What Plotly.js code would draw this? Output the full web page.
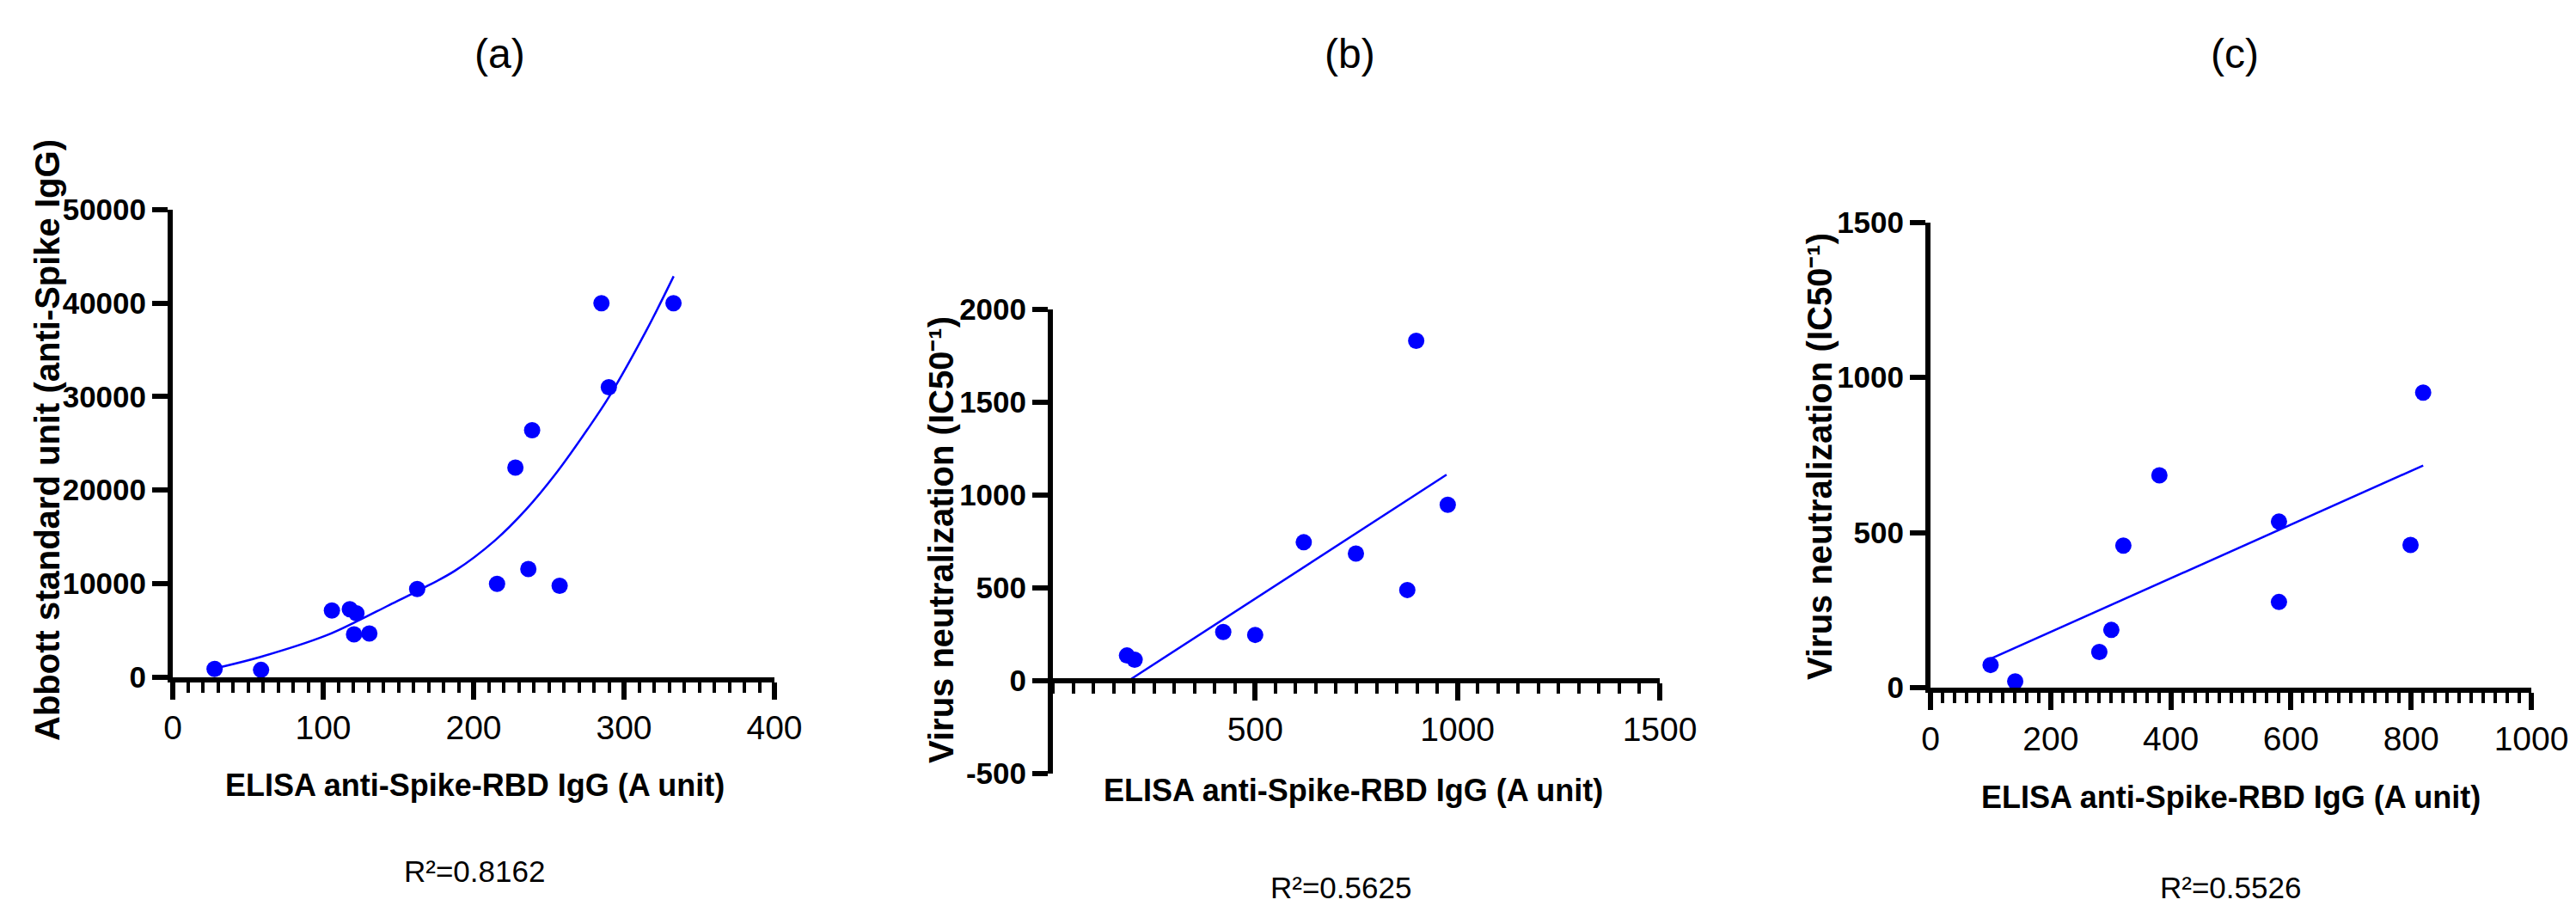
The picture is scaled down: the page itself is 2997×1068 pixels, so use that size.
<!DOCTYPE html>
<html>
<head>
<meta charset="utf-8">
<script src="https://cdn.plot.ly/plotly-3.0.1.min.js"></script>
<style>html,body{margin:0;padding:0;background:#fff;}#chart{width:2997px;height:1068px;}</style>
</head>
<body>
<div id="chart"></div>
<script>
// ---------- data ----------
const panelTitles = ['(a)', '(b)', '(c)'];
const xAxisTitle = 'ELISA anti-Spike-RBD IgG (A unit)';
const yTitleA = 'Abbott standard unit (anti-Spike IgG)';
const yTitleBC = 'Virus neutralization (IC50\u207B\u00B9)';
const r2Labels = ['R\u00B2=0.8162', 'R\u00B2=0.5625', 'R\u00B2=0.5526'];

// Panel (a)
const aX = [27.8, 58.7, 105.8, 117.7, 122.1, 120.5, 130.7, 162.5, 215.6, 236.4, 257.2, 227.8, 238.9, 285.0, 289.9, 332.9];
const aY = [850, 750, 7100, 7250, 6800, 4550, 4650, 9400, 9950, 11550, 9750, 22400, 26400, 40000, 31000, 40000];
const aFitX = [32.1, 58.9, 101.8, 122.3, 142.7, 163.2, 187.7, 214.3, 234.8, 254.2, 275.7, 290.4, 314.5, 333.0];
const aFitY = [1060, 2160, 4420, 5940, 7590, 9240, 11370, 14620, 17900, 21660, 26490, 30070, 36970, 42880];
const aXTicks = [0, 100, 200, 300, 400];
const aXTickText = ['0', '100', '200', '300', '400'];
const aYTicks = [0, 10000, 20000, 30000, 40000, 50000];
const aYTickText = ['0', '10000', '20000', '30000', '40000', '50000'];

// Panel (b)
const bX = [183, 202, 421, 500, 620, 749, 876, 898, 976];
const bY = [136, 113, 263, 247, 746, 685, 489, 1831, 948];
const bFitX = [186.6, 973];
const bFitY = [0, 1110];
const bXTicks = [500, 1000, 1500];
const bXTickText = ['500', '1000', '1500'];
const bYTicks = [-500, 0, 500, 1000, 1500, 2000];
const bYTickText = ['-500', '0', '500', '1000', '1500', '2000'];

// Panel (c)
const cX = [100, 141, 281, 301, 321, 381, 580, 580, 799, 820];
const cY = [73, 20, 115, 186, 458, 684, 535, 276, 460, 951];
const cFitX = [100, 820];
const cFitY = [93, 716];
const cXTicks = [0, 200, 400, 600, 800, 1000];
const cXTickText = ['0', '200', '400', '600', '800', '1000'];
const cYTicks = [0, 500, 1000, 1500];
const cYTickText = ['0', '500', '1000', '1500'];

// ---------- geometry / style ----------
const W = 2997, H = 1068;
const fx = p => p / W;
const fy = p => 1 - p / H;
const SANS = 'Liberation Sans, Arial, Helvetica, sans-serif';
const BLUE = '#0000ff';

const markerStyle = {color: BLUE, size: 19};
const lineStyle = {color: BLUE, width: 2.5};

function xAxis(domain, range, tickvals, ticktext, minorDtick, extra) {
  return Object.assign({
    domain: domain, range: range, showgrid: false, zeroline: false,
    showline: true, linecolor: '#000', linewidth: 6,
    ticks: 'outside', ticklen: 20, tickwidth: 6, tickcolor: '#000',
    tickmode: 'array', tickvals: tickvals, ticktext: ticktext,
    tickfont: {family: SANS, size: 39, color: '#000'},
    minor: {ticks: 'outside', ticklen: 12, tickwidth: 4, tickcolor: '#000',
            tickmode: 'linear', tick0: 0, dtick: minorDtick, showgrid: false},
    fixedrange: true
  }, extra || {});
}
function yAxis(domain, range, tickvals, ticktext, extra) {
  return Object.assign({
    domain: domain, range: range, showgrid: false, zeroline: false,
    showline: true, linecolor: '#000', linewidth: 6,
    ticks: 'outside', ticklen: 18, tickwidth: 6, tickcolor: '#000',
    tickmode: 'array', tickvals: tickvals, ticktext: ticktext,
    tickfont: {family: SANS, size: 35, color: '#000', weight: 'bold'},
    fixedrange: true
  }, extra || {});
}

const traces = [
  {x: aX, y: aY, xaxis: 'x', yaxis: 'y', mode: 'markers', type: 'scatter', marker: markerStyle, cliponaxis: false},
  {x: aFitX, y: aFitY, xaxis: 'x', yaxis: 'y', mode: 'lines', type: 'scatter', line: Object.assign({shape: 'spline', smoothing: 1}, lineStyle)},
  {x: bX, y: bY, xaxis: 'x2', yaxis: 'y2', mode: 'markers', type: 'scatter', marker: markerStyle, cliponaxis: false},
  {x: bFitX, y: bFitY, xaxis: 'x2', yaxis: 'y2', mode: 'lines', type: 'scatter', line: lineStyle},
  {x: cX, y: cY, xaxis: 'x3', yaxis: 'y3', mode: 'markers', type: 'scatter', marker: markerStyle, cliponaxis: false},
  {x: cFitX, y: cFitY, xaxis: 'x3', yaxis: 'y3', mode: 'lines', type: 'scatter', line: lineStyle}
];

const ann = [];
function addText(text, px, py, font, extra) {
  ann.push(Object.assign({text: text, xref: 'paper', yref: 'paper', x: fx(px), y: fy(py),
    xanchor: 'center', yanchor: 'middle', showarrow: false, font: font}, extra || {}));
}
const titleFont = {family: SANS, size: 48, color: '#000'};
const r2Font = {family: SANS, size: 35, color: '#000'};
const xtFont = {family: SANS, size: 36, color: '#000', weight: 'bold'};
const ytFont = {family: SANS, size: 40, color: '#000', weight: 'bold'};

addText(panelTitles[0], 581, 62, titleFont);
addText(panelTitles[1], 1571, 62, titleFont);
addText(panelTitles[2], 2600, 62, titleFont);
addText(r2Labels[0], 552, 1013, r2Font);
addText(r2Labels[1], 1560, 1032, r2Font);
addText(r2Labels[2], 2595, 1032, r2Font);
addText(xAxisTitle, 552, 913.5, xtFont);
addText(xAxisTitle, 1574, 919.5, xtFont);
addText(xAxisTitle, 2595, 927.5, xtFont);
addText(yTitleA, 55, 512, ytFont, {textangle: -90});
addText(yTitleBC, 1095, 628, ytFont, {textangle: -90});
addText(yTitleBC, 2117, 531, ytFont, {textangle: -90});

const layout = {
  width: W, height: H,
  margin: {l: 0, r: 0, t: 0, b: 0, pad: 0},
  paper_bgcolor: '#fff', plot_bgcolor: 'rgba(0,0,0,0)',
  showlegend: false, hovermode: false,
  xaxis: xAxis([fx(201), fx(901)], [0, 400], aXTicks, aXTickText, 10, {anchor: 'y'}),
  yaxis: yAxis([fy(787.5), fy(244)], [0, 50000], aYTicks, aYTickText, {anchor: 'x'}),
  xaxis2: xAxis([fx(1225), fx(1931)], [0, 1500], bXTicks, bXTickText, 50, {anchor: 'free', position: fy(792)}),
  yaxis2: yAxis([fy(900), fy(360)], [-500, 2000], bYTicks, bYTickText, {anchor: 'x2'}),
  xaxis3: xAxis([fx(2246), fx(2945)], [0, 1000], cXTicks, cXTickText, 20, {anchor: 'y3'}),
  yaxis3: yAxis([fy(800), fy(258.5)], [0, 1500], cYTicks, cYTickText, {anchor: 'x3'}),
  annotations: ann
};

Plotly.newPlot('chart', traces, layout, {staticPlot: true, displayModeBar: false});
</script>
</body>
</html>
